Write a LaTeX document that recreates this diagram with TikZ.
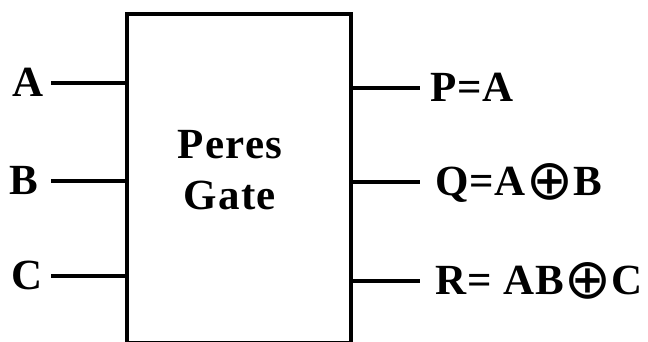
\documentclass[tikz,border=0pt]{standalone}
\usepackage{fontspec}
\setmainfont{Liberation Serif}
\newfontfamily\xorfont{DejaVu Sans}
\usetikzlibrary{positioning}

\newcommand{\xo}{{\xorfont\mdseries\fontsize{56}{58}\selectfont\hspace{1pt}\raisebox{-4pt}{⊕}}}

\begin{document}
\begin{tikzpicture}[x=1pt, y=1pt,
  lbl/.style={font=\fontsize{43}{46}\selectfont\bfseries\addfontfeature{LetterSpace=2}, inner sep=0pt, text height=28pt, text depth=0pt},
  wire/.style={line width=4pt}]
 \useasboundingbox (0,0) rectangle (648,342);
 % the gate
 \node[draw, line width=4pt, minimum width=224pt, minimum height=329pt, anchor=north west] (gate) at (125,330){};
 \node[font=\fontsize{43}{51}\selectfont\bfseries\addfontfeature{LetterSpace=3}, align=center, inner sep=0pt] (name) at (230,172){Peres\\Gate};
 % inputs
 \node[lbl, anchor=east] (inA) at (44,259){A};
 \node[lbl, anchor=east] (inB) at (38,161){B};
 \node[lbl, anchor=east] (inC) at (43,66){C};
 \draw[wire] ([xshift=7pt]inA.east) -- (inA -| gate.west);
 \draw[wire] ([xshift=13pt]inB.east) -- (inB -| gate.west);
 \draw[wire] ([xshift=8pt]inC.east) -- (inC -| gate.west);
 % outputs
 \node[lbl, anchor=west] (outP) at (430,254){P=A};
 \node[lbl, anchor=west] (outQ) at (435,160){Q=A\xo B};
 \node[lbl, anchor=west] (outR) at (435,61){R= AB\xo C};
 \draw[wire] (outP -| gate.east) -- ([xshift=-10pt]outP.west);
 \draw[wire] (outQ -| gate.east) -- ([xshift=-15pt]outQ.west);
 \draw[wire] (outR -| gate.east) -- ([xshift=-15pt]outR.west);
\end{tikzpicture}
\end{document}
